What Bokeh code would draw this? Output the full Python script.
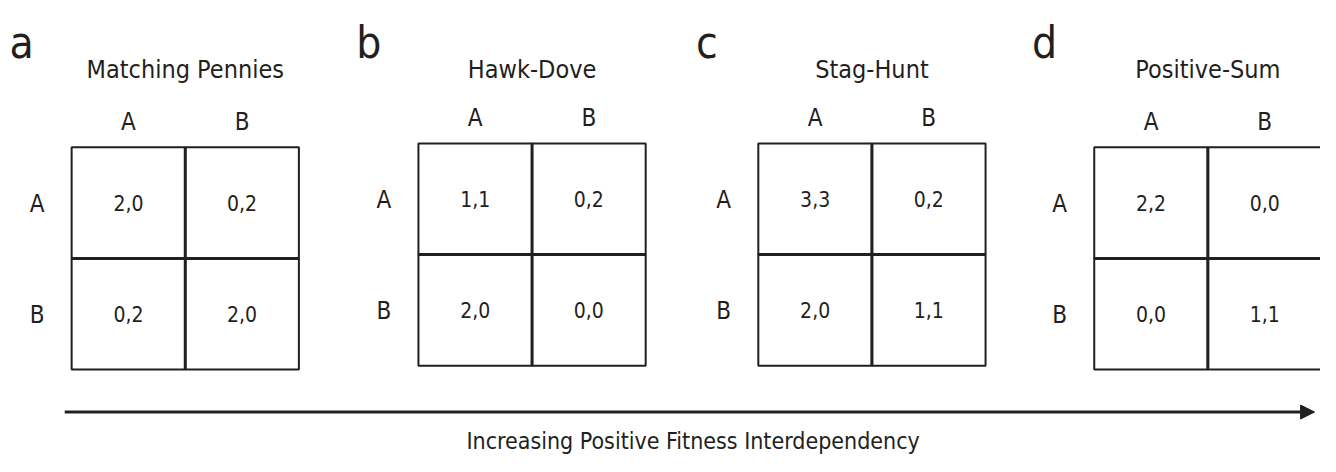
from bokeh.plotting import figure
from bokeh.models import Range1d, ColumnDataSource, Arrow, NormalHead
from bokeh.core.properties import value
from bokeh.embed import file_html
from bokeh.resources import INLINE

# ---- data ----
panel_letters = ["a", "b", "c", "d"]
games = ["Matching Pennies", "Hawk-Dove", "Stag-Hunt", "Positive-Sum"]
strategies = ["A", "B"]
# cell order: (A,A), (A,B), (B,A), (B,B)  -> payoff to row player, payoff to column player
row_payoff = [
    [2, 0, 0, 2],   # Matching Pennies
    [1, 0, 2, 0],   # Hawk-Dove
    [3, 0, 2, 1],   # Stag-Hunt
    [2, 0, 0, 1],   # Positive-Sum
]
col_payoff = [
    [0, 2, 2, 0],
    [1, 2, 0, 0],
    [3, 2, 0, 1],
    [2, 0, 0, 1],
]
axis_label = "Increasing Positive Fitness Interdependency"

# ---- layout (reference pixel coordinates, scaled into the figure) ----
FONT = "DejaVu Sans Condensed, Roboto"
INK = "#231f20"
W, H = 1320, 456
panel_left = [72, 423, 767, 1107]
panel_top = [152, 148, 148, 152]
CELL = 115

p = figure(width=W, height=H, output_backend="svg", toolbar_location=None,
           x_range=Range1d(0, 1336), y_range=Range1d(472, 0),
           min_border=0, outline_line_color=None)
p.axis.visible = False
p.grid.visible = False

cx, cy, txt = [], [], []
hx, hy, htxt = [], [], []
divx0, divy0, divx1, divy1 = [], [], [], []
tx, ty, ttxt = [], [], []
lx, ly, ltxt = [], [], []
for g in range(len(games)):
    L, T = panel_left[g], panel_top[g]
    for r in range(2):
        for c in range(2):
            k = 2 * r + c
            cx.append(L + CELL * c + CELL / 2)
            cy.append(T + CELL * r + CELL / 2)
            txt.append(f"{row_payoff[g][k]},{col_payoff[g][k]}")
    for i, s in enumerate(strategies):
        hx.append(L + CELL * i + CELL / 2); hy.append(T - 26); htxt.append(s)
        hx.append(L - 35); hy.append(T + CELL * i + CELL / 2 + 1); htxt.append(s)
    divx0 += [L + CELL, L]
    divy0 += [T, T + CELL]
    divx1 += [L + CELL, L + 2 * CELL]
    divy1 += [T + 2 * CELL, T + CELL]
    tx.append(L + CELL); ty.append(71); ttxt.append(games[g])
    lx.append(L - 63); ly.append(43); ltxt.append(panel_letters[g])

cells = ColumnDataSource(dict(x=cx, y=cy, t=txt))
p.rect(x="x", y="y", width=CELL, height=CELL, source=cells,
       fill_color="white", line_color=INK, line_width=2)
p.segment(x0=divx0, y0=divy0, x1=divx1, y1=divy1, line_color=INK, line_width=3)
p.text(x="x", y="y", text="t", source=cells, text_font=value(FONT),
       text_font_size="21px", text_align="center", text_baseline="middle",
       text_color=INK)
p.text(x=hx, y=hy, text=htxt, text_font=value(FONT), text_font_size="24px",
       text_align="center", text_baseline="middle", text_color=INK)
p.text(x=tx, y=ty, text=ttxt, text_font=value(FONT), text_font_size="25px",
       text_align="center", text_baseline="middle", text_color=INK)
p.text(x=lx, y=ly, text=ltxt, text_font=value(FONT), text_font_size="44px",
       text_align="left", text_baseline="alphabetic", text_color=INK)

p.add_layout(Arrow(end=NormalHead(size=14, fill_color=INK, line_color=INK, line_width=1),
                   x_start=65, y_start=426, x_end=1330, y_end=426,
                   line_color=INK, line_width=3))
p.text(x=[701], y=[456], text=[axis_label], text_font=value(FONT),
       text_font_size="23px", text_align="center", text_baseline="middle",
       text_color=INK)

open("out.html", "w").write(file_html(p, INLINE))
